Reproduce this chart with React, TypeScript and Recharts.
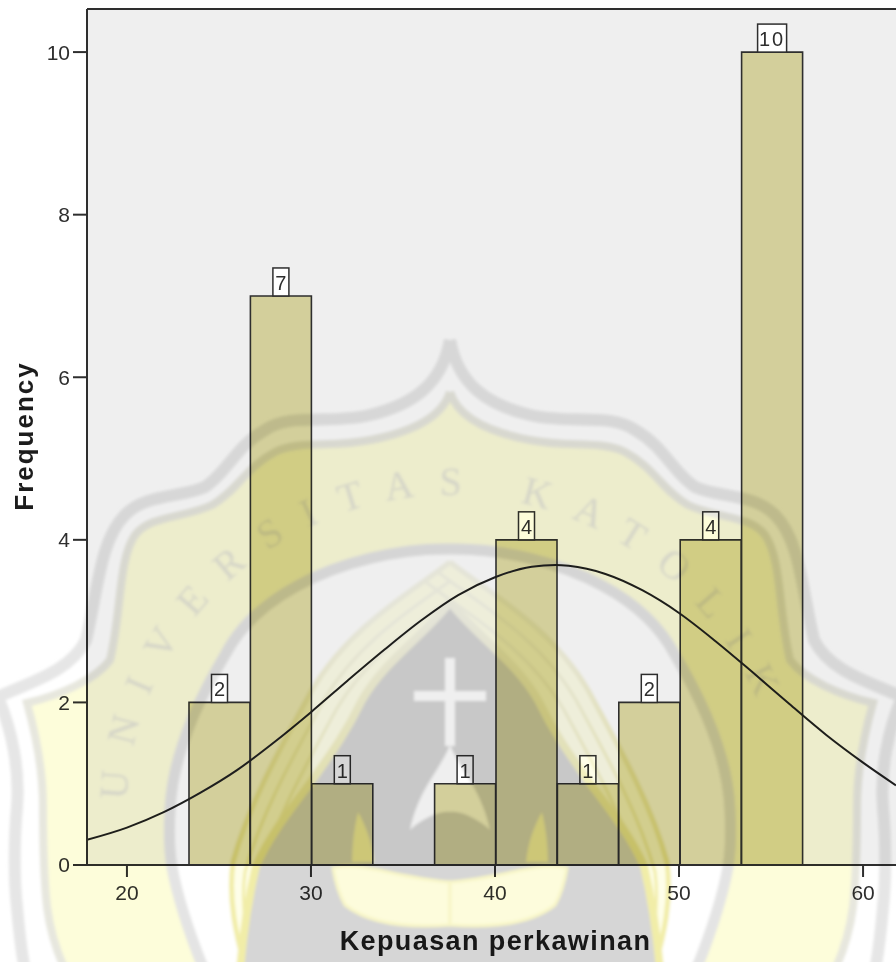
import React from "react";
import { ComposedChart, Bar, Line, XAxis, YAxis, CartesianGrid, ReferenceLine, LabelList, Label } from "recharts";

const binLabels = ["23-27", "27-30", "30-33", "33-37", "37-40", "40-43", "43-47", "47-50", "50-53", "53-57"];
const binCounts = [2, 7, 1, 0, 1, 4, 1, 2, 4, 10];
const curveX = [17.83, 20, 22, 24, 26, 28, 30, 32, 34, 36, 38, 40, 42, 43.3, 44, 46, 48, 50, 52, 54, 56, 58, 60, 61.79];
const curveY = [0.31, 0.46, 0.65, 0.89, 1.17, 1.51, 1.88, 2.27, 2.65, 3.01, 3.32, 3.54, 3.67, 3.69, 3.68, 3.58, 3.38, 3.1, 2.75, 2.37, 1.98, 1.6, 1.26, 0.98];
const xTicks = [20, 30, 40, 50, 60];
const yTicks = [0, 2, 4, 6, 8, 10];

const bins = binLabels.map((bin, i) => ({ bin, count: binCounts[i] }));
const curve = curveX.map((x, i) => ({ x, y: curveY[i] }));

const font = "'Liberation Sans', Arial, sans-serif";
const ink = "#2e2e2e";

const CountTag = (props: any) => {
  const { x, y, width, value } = props;
  if (!value) return null;
  const s = String(value);
  const w = s.length > 1 ? 29 : 16;
  const cx = x + width / 2;
  return (
    <g>
      <rect x={cx - w / 2} y={y - 28} width={w} height={28} fill="#fff" stroke={ink} strokeWidth={1.5} />
      <text x={cx} y={y - 6} textAnchor="middle" fontFamily={font} fontSize={20} fill={ink} letterSpacing={s.length > 1 ? 2 : 0}>{s}</text>
    </g>
  );
};

const outerLine = "M450 340 C442 385 412 405 370 415 C330 425 292 412 265 430 C235 447 228 472 205 487 C180 498 145 494 125 515 C100 540 98 590 86 640 C70 672 30 682 -2 697 C12 730 20 770 17 807 C14 840 14 880 17 907 C19 930 21 950 25 970";
const innerLine = "M450 392 C442 418 412 432 370 440 C330 448 300 440 275 452 C245 468 238 490 212 505 C185 518 150 515 135 535 C118 560 122 610 110 660 C95 680 60 695 27 703 C36 735 43 770 43 807 C43 840 44 880 47 907 C50 930 56 950 65 970";
const archLine = "M450 549 C400 548 340 562 297 586 C260 606 238 630 225 655 C195 705 172 760 170 810 C169 830 169 850 172 867 C178 900 190 935 204 970";
const ringLine = "M450 562 C415 590 350 625 312 690 C285 740 250 800 233 862 C228 900 236 935 246 970";
const coreLine = "M450 602 C425 635 385 660 362 700 C345 735 330 755 311 782 C290 810 270 835 256 866 C248 900 243 935 240 970";
const tear = "M450 745 C440 770 418 790 410 830 C420 820 440 810 450 812 Z";
const swirl = "M333 868 C360 860 395 878 450 882 L450 925 C410 928 370 925 345 905 C338 893 335 880 333 868 Z";

const Band = ({ d, fill, stroke, w }: { d: string; fill: string; stroke: string; w: number }) => (
  <g>
    <path d={`${d} L450 970 Z`} fill={fill} stroke="none" />
    <path d={d} fill="none" stroke={stroke} strokeWidth={w} />
  </g>
);

const ShieldHalf = () => (
  <g>
    <Band d={outerLine} fill="#fff" stroke="#e6e6e6" w={12} />
    <Band d={innerLine} fill="#fdfdda" stroke="#e7e7de" w={8} />
    <Band d={archLine} fill="#fff" stroke="#e4e4e4" w={11} />
    <Band d={ringLine} fill="#fefee9" stroke="url(#stripe)" w={5} />
    <path d={ringLine} fill="none" stroke="url(#stripe)" strokeWidth={3} transform="translate(12 10)" />
    <path d={ringLine} fill="none" stroke="url(#stripe)" strokeWidth={3} transform="translate(24 20)" />
    <Band d={coreLine} fill="#d6d6d6" stroke="url(#stripe)" w={8} />
    <path d={tear} fill="#fff" />
    <path d={swirl} fill="#fdfcdc" stroke="#f7f5c6" strokeWidth={3} />
    <path d="M358 812 C366 826 372 842 374 862 L352 862 C352 845 354 828 358 812 Z" fill="#f8f5c4" />
  </g>
);

const Watermark = () => (
  <svg
    width={896}
    height={962}
    style={{ position: "absolute", left: 0, top: 0, mixBlendMode: "multiply", pointerEvents: "none" }}
  >
    <defs>
      <clipPath id="lowerPage"><rect x={0} y={332} width={896} height={630} /></clipPath>
      <filter id="soft"><feGaussianBlur stdDeviation={1.4} /></filter>
      <linearGradient id="stripe" gradientUnits="userSpaceOnUse" x1={0} y1={620} x2={0} y2={860}>
        <stop offset="0" stopColor="#f4f4e6" />
        <stop offset="1" stopColor="#f1eda8" />
      </linearGradient>
      <path id="mottoArc" d="M127 800 C130 640 270 495 450 495 C630 495 770 640 782 800" fill="none" />
    </defs>
    <g clipPath="url(#lowerPage)" filter="url(#soft)">
      <ShieldHalf />
      <g transform="translate(900 0) scale(-1 1)"><ShieldHalf /></g>
      <g fill="#fff">
        <rect x={445} y={658} width={10} height={88} />
        <rect x={414} y={691} width={72} height={10} />
      </g>
      <text fontFamily="'Liberation Serif', serif" fontSize={40} fill="#e4e4d6">
        <textPath href="#mottoArc" textLength={880} lengthAdjust="spacing">UNIVERSITAS KATOLIK</textPath>
      </text>
    </g>
  </svg>
);

export default function App() {
  return (
    <div style={{ position: "absolute", left: 0, top: 0, width: 896, height: 962, overflow: "hidden", background: "#fff", filter: "blur(0.4px)" }}>
      <ComposedChart
        width={896}
        height={962}
        data={bins}
        barCategoryGap={0}
        margin={{ top: 9, right: 0, bottom: 0, left: 0 }}
      >
        <CartesianGrid fill="#efefef" horizontal={false} vertical={false} stroke="none" />
        <XAxis
          xAxisId="bins"
          type="category"
          dataKey="bin"
          hide
          padding={{ left: 102, right: 93 }}
          height={0}
        />
        <XAxis
          xAxisId="value"
          type="number"
          dataKey="x"
          domain={[17.83, 61.79]}
          ticks={xTicks}
          allowDataOverflow
          tickSize={12}
          tickMargin={8}
          tickLine={{ stroke: ink, strokeWidth: 2 }}
          axisLine={{ stroke: ink, strokeWidth: 2 }}
          tick={{ fontFamily: font, fontSize: 21, fill: ink }}
          height={97}
        >
          <Label value="Kepuasan perkawinan" position="insideTop" offset={66} dx={4} fontFamily={font} fontSize={27} fontWeight="bold" letterSpacing={1.4} fill="#1c1c1c" />
        </XAxis>
        <YAxis
          type="number"
          domain={[0, 10.53]}
          ticks={yTicks}
          allowDataOverflow
          width={87}
          tickSize={14}
          tickMargin={3}
          tickLine={{ stroke: ink, strokeWidth: 2 }}
          axisLine={{ stroke: ink, strokeWidth: 2 }}
          tick={{ fontFamily: font, fontSize: 21, fill: ink }}
        />
        <ReferenceLine xAxisId="value" y={10.53} stroke={ink} strokeWidth={2} />
        <Bar xAxisId="bins" dataKey="count" fill="#d3cf9b" stroke={ink} strokeWidth={1.6} isAnimationActive={false}>
          <LabelList dataKey="count" content={CountTag} />
        </Bar>
        <Line xAxisId="value" data={curve} dataKey="y" type="monotone" stroke="#1e1e1e" strokeWidth={2} dot={false} isAnimationActive={false} />
      </ComposedChart>
      <svg width={60} height={300} style={{ position: "absolute", left: 0, top: 280 }}>
        <text transform="translate(33 156) rotate(-90)" textAnchor="middle" fontFamily={font} fontSize={26} fontWeight="bold" letterSpacing={2} fill="#1c1c1c">Frequency</text>
      </svg>
      <Watermark />
    </div>
  );
}
